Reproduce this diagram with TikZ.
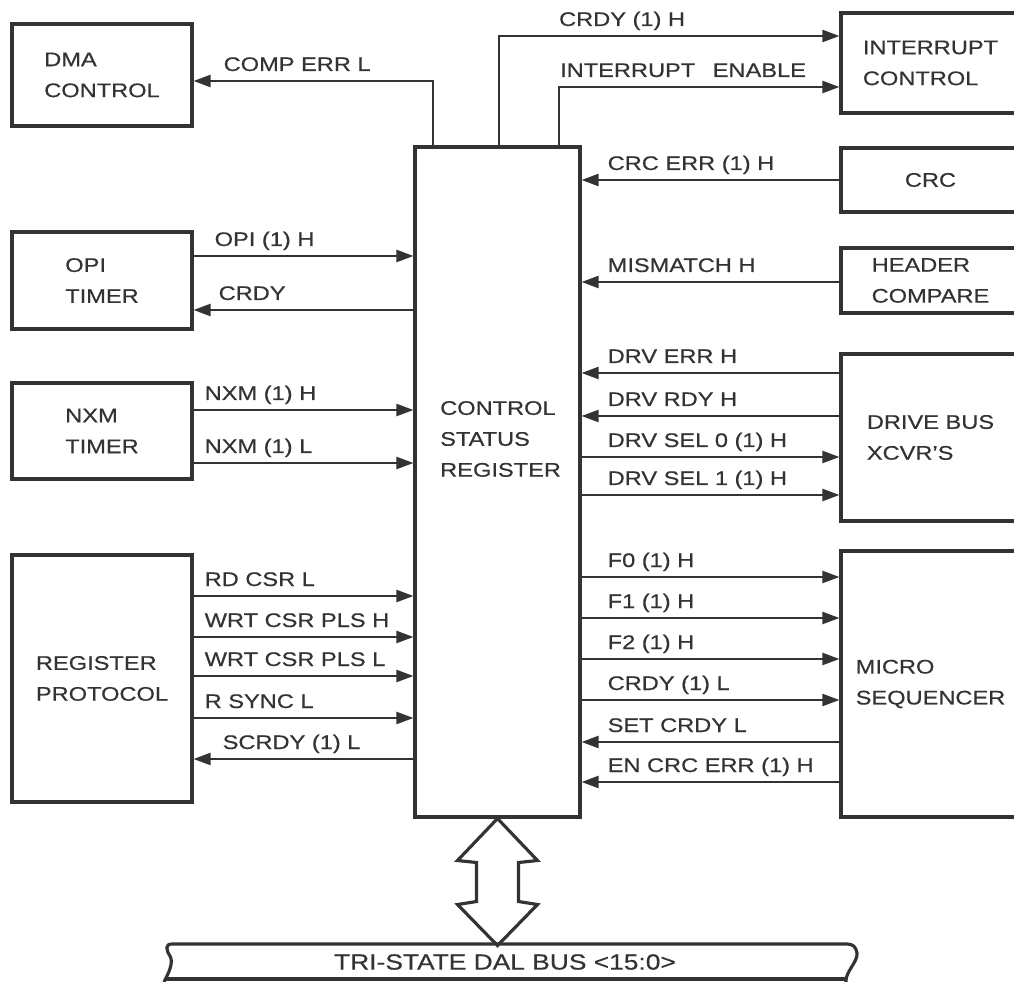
\documentclass[tikz,border=0pt]{standalone}
\usepackage{fontspec}
\setmainfont[FakeStretch=1.2, FakeBold=0.5]{Liberation Sans}
\usetikzlibrary{arrows.meta}

\begin{document}
\begin{tikzpicture}[x=0.02cm, y=-0.02cm, black!80,
        blk/.style={draw, line width=1.8pt, minimum width=3.6cm, align=left, font=\fontsize{11.2pt}{17.6pt}\selectfont},
        wout/.style={line width=1.3pt, -{Triangle[length=3.4mm, width=2.4mm]}},
        win/.style={line width=1.3pt, {Triangle[length=3.4mm, width=2.4mm]}-},
        sig/.style={anchor=base west, inner sep=0pt, font=\fontsize{11.2pt}{13pt}\selectfont},
        sigl/.style={sig, xshift=0.2cm, yshift=0.2cm},
        sigr/.style={sig, xshift=0.5cm, yshift=0.2cm}]
            \path[use as bounding box] (0,0) rectangle (1014,982);
            \clip (0,0) rectangle (1014,982);
            % Blocks:
            \node[blk, minimum height=2.04cm] (dma) at (102,75) {DMA\\CONTROL};
            \node[blk, minimum height=1.94cm] (opi) at (102,280.5) {OPI\\TIMER};
            \node[blk, minimum height=1.92cm] (nxm) at (102,431) {NXM\\TIMER};
            \node[blk, minimum height=4.94cm] (reg) at (102,678.5) {REGISTER\\PROTOCOL};
            \node[blk, minimum width=3.3cm, minimum height=13.4cm] (csr) at (497.5,482) {};
            \node[anchor=west, align=left, font=\fontsize{11.2pt}{17.6pt}\selectfont] (csrtxt) at (434,439) {CONTROL\\STATUS\\REGISTER};
            \node[blk, minimum width=3.58cm, minimum height=2cm] (intc) at (930.5,63) {INTERRUPT\\CONTROL};
            \node[blk, minimum width=3.58cm, minimum height=1.28cm] (crc) at (930.5,180) {CRC};
            \node[blk, minimum width=3.58cm, minimum height=1.3cm] (hdr) at (930.5,280.5) {HEADER\\COMPARE};
            \node[blk, minimum width=3.58cm, minimum height=3.34cm] (drv) at (930.5,437.5) {DRIVE BUS\\XCVR'S};
            \node[blk, minimum width=3.58cm, minimum height=5.32cm] (mseq) at (930.5,684) {MICRO\\SEQUENCER};
            \node[font=\fontsize{12.5pt}{14pt}\selectfont] (bus) at (505,962) {TRI-STATE DAL BUS <15:0>};
            % Bus outline and double arrow:
            \draw[line width=1.8pt] (846,982) .. controls (845,972) and (858,962) .. (857,953) .. controls (856,947) and (853,944) .. (847,944) -- (172,944) .. controls (165,944) and (166,950) .. (170,956) .. controls (174,963) and (168,974) .. (164,982);
            \draw[line width=1.8pt] (165,979) -- (847,979);
            \draw[line width=1.8pt, shift={(csr.south)}] (0,0) -- (-40,42) -- (-21,44) -- (-21,83) -- (-40,86) -- (0,127) -- (40,86) -- (21,83) -- (21,44) -- (40,42) -- cycle;
            % Wires, top:
            \draw[wout] (csr.north -| 433,0) |- (dma.east |- 0,81) node[sig, xshift=0.58cm, yshift=0.2cm] {COMP ERR L};
            \draw[wout] (csr.north -| 499,0) |- (intc.west |- 0,36) node[sig] at (558,26) {CRDY (1) H};
            \draw[wout] (csr.north -| 559,0) |- (intc.west |- 0,87) node[sig] at (559,77) {INTERRUPT\hspace{0.22cm} ENABLE};
            % Wires, left:
            \draw[wout] (opi.east |- 0,256) node[sigl, xshift=0.2cm] {OPI (1) H} -- (csr.west |- 0,256);
            \draw[win] (opi.east |- 0,310) node[sigl, xshift=0.28cm] {CRDY} -- (csr.west |- 0,310);
            \draw[wout] (nxm.east |- 0,410) node[sigl] {NXM (1) H} -- (csr.west |- 0,410);
            \draw[wout] (nxm.east |- 0,463) node[sigl] {NXM (1) L} -- (csr.west |- 0,463);
            \draw[wout] (reg.east |- 0,596) node[sigl] {RD CSR L} -- (csr.west |- 0,596);
            \draw[wout] (reg.east |- 0,637) node[sigl] {WRT CSR PLS H} -- (csr.west |- 0,637);
            \draw[wout] (reg.east |- 0,676) node[sigl] {WRT CSR PLS L} -- (csr.west |- 0,676);
            \draw[wout] (reg.east |- 0,718) node[sigl] {R SYNC L} -- (csr.west |- 0,718);
            \draw[win] (reg.east |- 0,759) node[sigl, xshift=0.36cm] {SCRDY (1) L} -- (csr.west |- 0,759);
            % Wires, right:
            \draw[win] (csr.east |- 0,180) node[sigr] {CRC ERR (1) H} -- (crc.west |- 0,180);
            \draw[win] (csr.east |- 0,282) node[sigr] {MISMATCH H} -- (hdr.west |- 0,282);
            \draw[win] (csr.east |- 0,373) node[sigr] {DRV ERR H} -- (drv.west |- 0,373);
            \draw[win] (csr.east |- 0,416) node[sigr] {DRV RDY H} -- (drv.west |- 0,416);
            \draw[wout] (csr.east |- 0,457) node[sigr] {DRV SEL 0 (1) H} -- (drv.west |- 0,457);
            \draw[wout] (csr.east |- 0,495) node[sigr] {DRV SEL 1 (1) H} -- (drv.west |- 0,495);
            \draw[wout] (csr.east |- 0,577) node[sigr] {F0 (1) H} -- (mseq.west |- 0,577);
            \draw[wout] (csr.east |- 0,618) node[sigr] {F1 (1) H} -- (mseq.west |- 0,618);
            \draw[wout] (csr.east |- 0,659) node[sigr] {F2 (1) H} -- (mseq.west |- 0,659);
            \draw[wout] (csr.east |- 0,700) node[sigr] {CRDY (1) L} -- (mseq.west |- 0,700);
            \draw[win] (csr.east |- 0,742) node[sigr] {SET CRDY L} -- (mseq.west |- 0,742);
            \draw[win] (csr.east |- 0,782) node[sigr] {EN CRC ERR (1) H} -- (mseq.west |- 0,782);
\end{tikzpicture}
\end{document}
